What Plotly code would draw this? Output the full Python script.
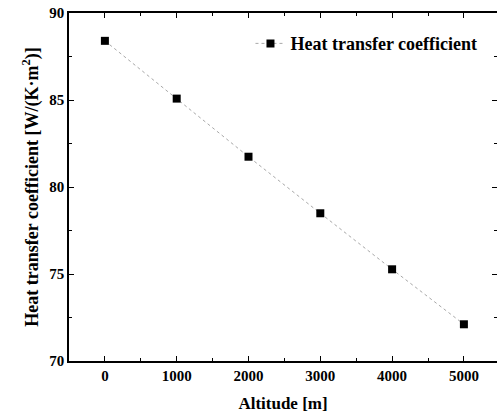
import plotly.graph_objects as go

altitude = [0, 1000, 2000, 3000, 4000, 5000]
htc = [88.4, 85.08, 81.74, 78.49, 75.27, 72.11]
x_ticks = [0, 1000, 2000, 3000, 4000, 5000]
y_ticks = [70, 75, 80, 85, 90]

FONT = "Liberation Serif"
xr = [-500, 5461]
yr = [70, 90]

fig = go.Figure()
fig.add_trace(go.Scatter(
    x=altitude, y=htc, mode="lines+markers", name="<b>Heat transfer coefficient</b>",
    line=dict(color="#a8a8a8", width=1, dash="dot"),
    marker=dict(symbol="square", size=8, color="black"),
))
fig.add_trace(go.Scatter(
    x=altitude, y=htc, xaxis="x2", yaxis="y2", mode="markers",
    marker=dict(opacity=0), showlegend=False, hoverinfo="skip",
))

tickfont = dict(family=FONT, size=15, color="black")
common = dict(ticks="inside", ticklen=5, tickwidth=1.2, tickcolor="black",
              showgrid=False, zeroline=False, linecolor="black", linewidth=1.5)

fig.update_layout(
    width=497, height=414,
    margin=dict(l=69, r=0, t=13, b=53),
    paper_bgcolor="white", plot_bgcolor="white",
    font=dict(family=FONT, color="black"),
    showlegend=True,
    legend=dict(x=0.424, y=0.965, xanchor="left", yanchor="top",
                font=dict(family=FONT, size=18, color="black"),
                bgcolor="rgba(0,0,0,0)"),
    xaxis=dict(range=xr, tickvals=x_ticks, ticktext=[f"<b>{v}</b>" for v in x_ticks],
               tickfont=tickfont, showline=True, mirror=False,
               minor=dict(dtick=500, tick0=0, ticks="inside", ticklen=3, tickcolor="black"),
               title=dict(text="<b>Altitude [m]</b>", font=dict(family=FONT, size=17), standoff=14),
               **common),
    yaxis=dict(range=yr, tickvals=y_ticks, ticktext=[f"<b>{v}</b>" for v in y_ticks],
               tickfont=tickfont, showline=True, mirror=False,
               minor=dict(dtick=2.5, tick0=70, ticks="inside", ticklen=3, tickcolor="black"),
               title=dict(text="<b>Heat transfer coefficient [W/(K·m<sup>2</sup>)]</b>",
                          font=dict(family=FONT, size=18), standoff=6),
               **common),
    xaxis2=dict(range=xr, overlaying="x", side="top", anchor="y", tickvals=x_ticks,
                showticklabels=False, showline=True,
                minor=dict(dtick=500, tick0=0, ticks="inside", ticklen=3, tickcolor="black"),
                **common),
    yaxis2=dict(range=yr, overlaying="y", side="right", anchor="x", tickvals=y_ticks,
                showticklabels=False, showline=False,
                minor=dict(dtick=2.5, tick0=70, ticks="inside", ticklen=3, tickcolor="black"),
                **common),
)

fig.write_html("out.html")
